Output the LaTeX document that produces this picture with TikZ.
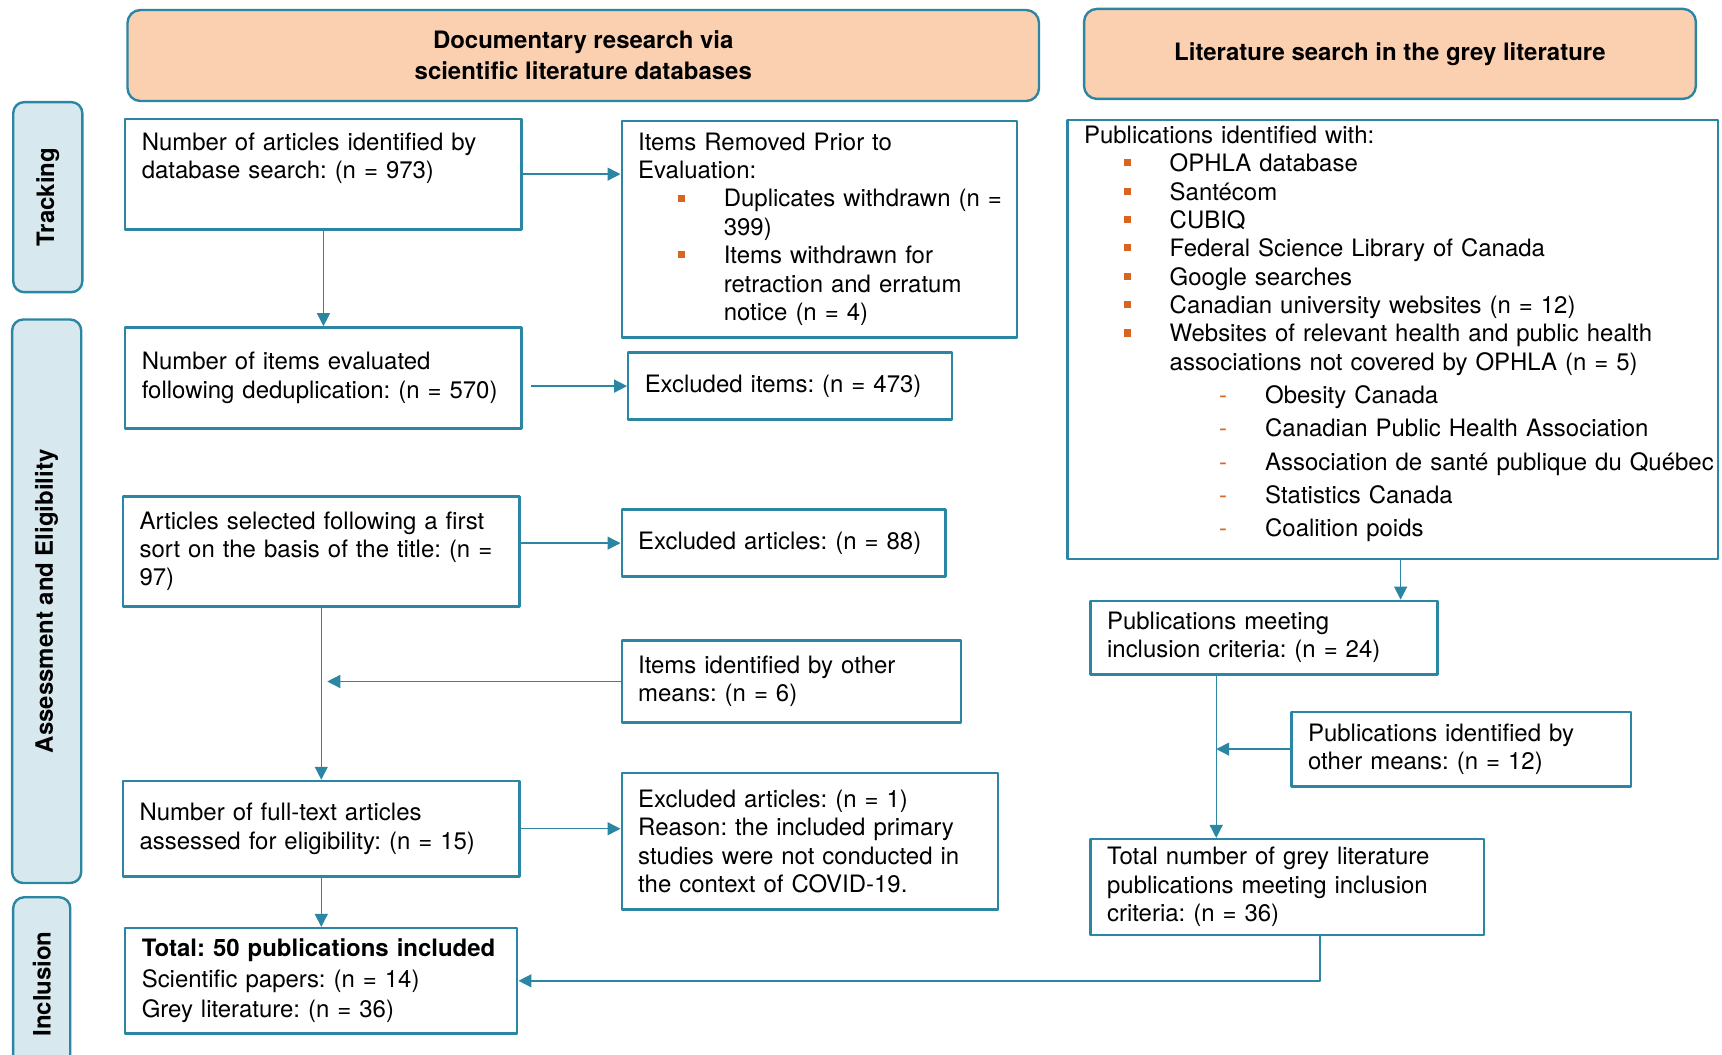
\documentclass[tikz,border=0pt]{standalone}
\usepackage{fontspec}
\setmainfont{TeX Gyre Heros}
\usetikzlibrary{arrows.meta}
\definecolor{flowteal}{HTML}{2A86A3}
\definecolor{headpeach}{HTML}{FBD0B1}
\definecolor{phaseblue}{HTML}{D7E9EE}
\definecolor{bulorange}{HTML}{D9661F}
\frenchspacing
\newcommand{\sqitem}{\hspace*{19.8pt}\makebox[23.1pt][l]{\textcolor{bulorange}{\rule[0.22em]{3.6pt}{3.6pt}}}}
\newcommand{\dashitem}{\hspace*{67.7pt}\makebox[23pt][l]{\textcolor{bulorange}{-}}}
\newcommand{\contitem}{\hspace*{42.9pt}}
\begin{document}
\begin{tikzpicture}[x=0.55pt, y=-0.55pt, font=\fontsize{12}{14.2}\selectfont, line join=round, >={Triangle[length=6.5pt,width=6.5pt]},
	stage/.style={draw=flowteal, line width=1.2pt, fill=white, anchor=north west, align=left, inner xsep=8.25pt, inner ysep=3pt},
	head/.style={draw=flowteal, line width=1.2pt, fill=headpeach, rounded corners=6.5pt, anchor=north west, align=center, font=\fontsize{12}{15.4}\selectfont\bfseries},
	phase/.style={draw=flowteal, line width=1.2pt, fill=phaseblue, rounded corners=5.5pt, rotate=90, font=\fontsize{12}{14}\selectfont\bfseries},
	flow/.style={->, draw=flowteal, line width=0.7pt}]
				\useasboundingbox (0,0) rectangle (1568,960);
				\node[head, minimum width=456.5pt, minimum height=45.6pt] (hsci) at (115,8) {Documentary research via\\scientific literature databases};
				\node[head, minimum width=306.4pt, minimum height=45.1pt] (hgrey) at (986,7) {Literature search in the grey literature};
				\node[phase, minimum width=95.2pt, minimum height=34.6pt] (ptrack) at (43.5,179.5) {Tracking};
				\node[phase, minimum width=282.2pt, minimum height=34.6pt] (passess) at (42.5,547.5) {Assessment and Eligibility};
				\node[phase, minimum width=86.9pt, minimum height=28.6pt] (pincl) at (38,896) {Inclusion};
				\node[stage, text width=182pt, minimum height=55.5pt] (a1) at (113,107) {Number of articles identified by\\database search: (n = 973)\\[4.4pt]\mbox{}};
				\node[stage, text width=182pt, minimum height=50.6pt] (a2) at (113,297) {Number of items evaluated\\\mbox{following deduplication: (n = 570)}};
				\node[stage, text width=182pt, minimum height=55pt] (a3) at (111,451) {Articles selected following a first\\\mbox{sort on the basis of the title: (n =}\\97)};
				\node[stage, text width=182pt, minimum height=47.9pt] (a4) at (111,710) {Number of full-text articles\\assessed for eligibility: (n = 15)};
				\node[stage, text width=179.8pt, minimum height=52.8pt] (a5) at (113,844) {\mbox{\textbf{Total: 50 publications included}}\\[1pt]Scientific papers: (n = 14)\\[1pt]Grey literature: (n = 36)};
				\node[stage, text width=181.5pt, minimum height=108.4pt] (b1) at (565,109) {Items Removed Prior to\\Evaluation:\\\mbox{\sqitem Duplicates withdrawn (n =}\\\contitem 399)\\\sqitem Items withdrawn for\\\contitem retraction and erratum\\\contitem notice (n = 4)};
				\node[stage, text width=145.7pt, minimum height=33.5pt] (b2) at (571,320) {Excluded items: (n = 473)};
				\node[stage, text width=145.7pt, minimum height=33.5pt] (b3) at (565,463) {Excluded articles: (n = 88)};
				\node[stage, text width=153.4pt, minimum height=41.2pt] (b4) at (565,582) {Items identified by other\\means: (n = 6)};
				\node[stage, text width=172.1pt, minimum height=68.2pt] (b5) at (565,703) {Excluded articles: (n = 1)\\\mbox{Reason: the included primary}\\\mbox{studies were not conducted in}\\the context of COVID-19.};
				\node[stage, text width=309.1pt, minimum height=219.4pt] (c1) at (971,108) {Publications identified with:\\\sqitem OPHLA database\\\sqitem Santécom\\\sqitem CUBIQ\\\sqitem Federal Science Library of Canada\\\sqitem Google searches\\\sqitem Canadian university websites (n = 12)\\\mbox{\sqitem Websites of relevant health and public health}\\\mbox{\contitem associations not covered by OPHLA (n = 5)}\\[2.5pt]\dashitem Obesity Canada\\[2.5pt]\dashitem Canadian Public Health Association\\[2.5pt]\mbox{\dashitem Association de santé publique du Québec}\\[2.5pt]\dashitem Statistics Canada\\[2.5pt]\dashitem Coalition poids\\[-6pt]\mbox{}};
				\node[stage, text width=157.3pt, minimum height=36.8pt] (c2) at (992,546) {Publications meeting\\inclusion criteria: (n = 24)};
				\node[stage, text width=153.4pt, minimum height=37.4pt] (c3) at (1175,647) {Publications identified by\\other means: (n = 12)};
				\node[stage, text width=180.4pt, minimum height=47.9pt] (c4) at (992,763) {Total number of grey literature\\\mbox{publications meeting inclusion}\\criteria: (n = 36)};
				\draw[flow] (a1.east) -- (a1.east -| b1.west);
				\draw[flow] (a1.south) -- (a2.north);
				\draw[flow] ([xshift=4pt]a2.east |- b2.west) -- (b2.west);
				\draw[flow] (a3.east |- b3.west) -- (b3.west);
				\draw[flow] (a3.south) -- (a4.north);
				\draw[flow] (b4.west) -- ([xshift=3pt]a3.south |- b4.west);
				\draw[flow] (a4.east) -- (a4.east -| b5.west);
				\draw[flow] (a4.south) -- (a5.north);
				\draw[flow] ([xshift=4pt]c1.south) -- ([xshift=4pt]c1.south |- c2.north);
				\coordinate (cjoin) at ([xshift=-24pt]c2.south);
				\draw[flow] (cjoin) -- (cjoin |- c4.north);
				\draw[flow] (c3.west) -- (cjoin |- c3.west);
				\draw[flow] ([xshift=16.5pt]c4.south) |- (a5.east);
			\end{tikzpicture}
\end{document}
